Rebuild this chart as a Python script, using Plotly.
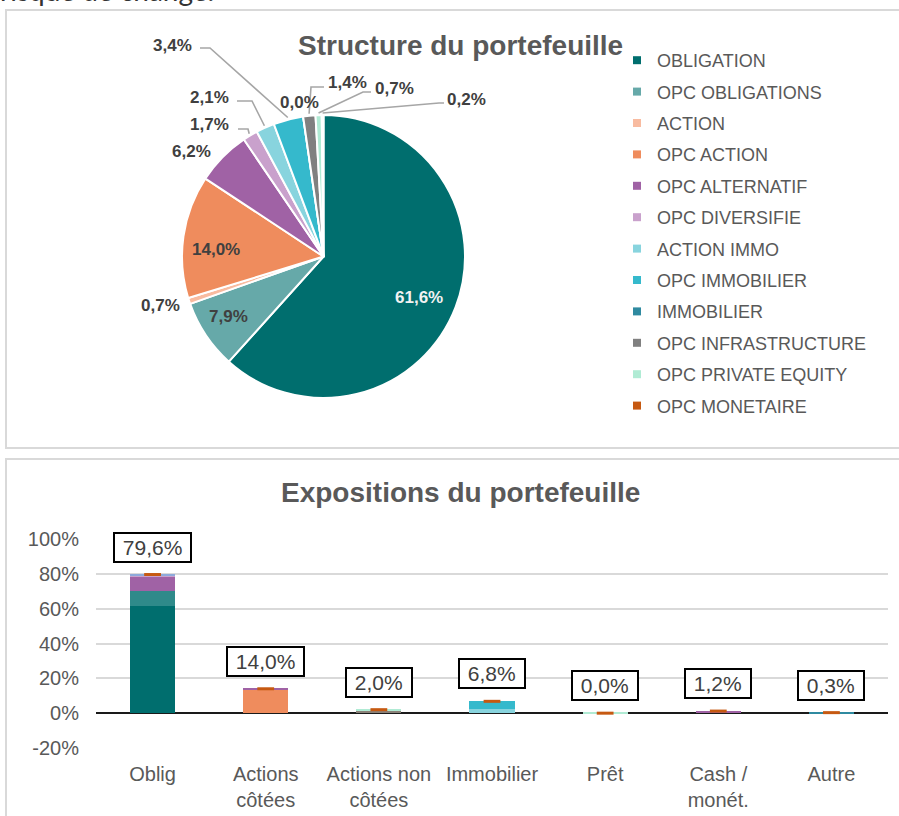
import math
import plotly.graph_objects as go

W, H = 899, 816

# ---------------- Pie data ----------------
pie_labels = ["OBLIGATION", "OPC OBLIGATIONS", "ACTION", "OPC ACTION", "OPC ALTERNATIF",
              "OPC DIVERSIFIE", "ACTION IMMO", "OPC IMMOBILIER", "IMMOBILIER",
              "OPC INFRASTRUCTURE", "OPC PRIVATE EQUITY", "OPC MONETAIRE"]
pie_values = [61.6, 7.9, 0.7, 14.0, 6.2, 1.7, 2.1, 3.4, 0.0, 1.4, 0.7, 0.2]
pie_colors = ["#006e6e", "#66a9a9", "#f8bba0", "#ef8c5d", "#a062a5", "#c9a1cc",
              "#88d4de", "#35b9cc", "#2f8aa0", "#808080", "#b0ebd4", "#c65911"]

# ---------------- Bar data ----------------
bar_categories = ["Oblig", "Actions<br>côtées", "Actions non<br>côtées", "Immobilier",
                  "Prêt", "Cash /<br>monét.", "Autre"]
bar_totals = [79.6, 14.0, 2.0, 6.8, 0.0, 1.2, 0.3]
bar_obligation = [61.6, 0, 0, 0, 0, 0, 0]
bar_opc_obligations = [8.4, 0, 0, 0, 0, 0, 0]
bar_opc_action = [0, 13.5, 0, 0, 0, 0, 0]
bar_opc_alternatif = [8.2, 0.5, 0, 0, 0, 1.2, 0]
bar_opc_diversifie = [0.9, 0, 0, 0, 0, 0, 0]
bar_autres = [0.5, 0, 0, 0, 0, 0, 0]
bar_action_immo = [0, 0, 0, 2.3, 0, 0, 0]
bar_opc_immobilier = [0, 0, 0, 4.5, 0, 0, 0]
bar_immobilier = [0, 0, 0, 0, 0, 0, 0.3]
bar_opc_infra = [0, 0, 1.4, 0, 0, 0, 0]
bar_opc_pe = [0, 0, 0.6, 0, 0.2, 0, 0]
y_tick_values = [-20, 0, 20, 40, 60, 80, 100]
y_tick_labels = ["-20%", "0%", "20%", "40%", "60%", "80%", "100%"]

bar_series = [
    ("OBLIGATION", bar_obligation, "#006e6e"),
    ("OPC OBLIGATIONS", bar_opc_obligations, "#2f8a8a"),
    ("OPC ACTION", bar_opc_action, "#ef8c5d"),
    ("OPC ALTERNATIF", bar_opc_alternatif, "#a062a5"),
    ("OPC DIVERSIFIE", bar_opc_diversifie, "#c9a1cc"),
    ("AUTRES", bar_autres, "#8eaadb"),
    ("ACTION IMMO", bar_action_immo, "#88d4de"),
    ("OPC IMMOBILIER", bar_opc_immobilier, "#35b9cc"),
    ("IMMOBILIER", bar_immobilier, "#2f8aa0"),
    ("OPC INFRASTRUCTURE", bar_opc_infra, "#8a8178"),
    ("OPC PRIVATE EQUITY", bar_opc_pe, "#b0ebd4"),
]

FONT = "Liberation Sans, Arial, sans-serif"
GREY = "#595959"
DARK = "#404040"


def px(x):
    return x / W


def py(y):
    return 1 - y / H


def fmt(v):
    return f"{v:.1f}".replace(".", ",") + "%"


fig = go.Figure()

# Pie geometry (pixels)
PIE_L, PIE_R, PIE_T, PIE_B = 182, 465, 115, 398
cx, cy = (PIE_L + PIE_R) / 2, (PIE_T + PIE_B) / 2
rad = (PIE_R - PIE_L) / 2

fig.add_trace(go.Pie(
    labels=pie_labels, values=pie_values, sort=False, direction="clockwise", rotation=0,
    marker=dict(colors=pie_colors, line=dict(color="white", width=2)),
    textinfo="none", hoverinfo="label+value", showlegend=False, automargin=False,
    domain=dict(x=[px(PIE_L), px(PIE_R)], y=[py(PIE_B), py(PIE_T)]),
))

# Bars
for name, vals, col in bar_series:
    fig.add_trace(go.Bar(x=bar_categories, y=vals, name=name, marker=dict(color=col, line=dict(width=0)),
                         showlegend=False, hoverinfo="x+y+name"))

# Total markers
fig.add_trace(go.Scatter(x=bar_categories, y=bar_totals, mode="markers", showlegend=False,
                         marker=dict(symbol="line-ew", size=12, line=dict(color="#c65911", width=3)),
                         cliponaxis=False, hoverinfo="x+y"))

# Legend entries (pie categories)
for i, (lab, col) in enumerate(zip(pie_labels, pie_colors)):
    fig.add_trace(go.Scatter(x=[None], y=[None], mode="markers", name=lab, legendgroup=f"g{i}",
                             marker=dict(symbol="square", size=8, color=col)))

annotations = []
shapes = []

# panels
shapes.append(dict(type="rect", xref="paper", yref="paper", x0=px(6), x1=px(920), y0=py(448), y1=py(10),
                   line=dict(color="#d9d9d9", width=2), layer="below"))
shapes.append(dict(type="rect", xref="paper", yref="paper", x0=px(6), x1=px(920), y0=py(840), y1=py(459),
                   line=dict(color="#d9d9d9", width=2), layer="below"))

# cropped header text
annotations.append(dict(text="risque de change.", xref="paper", yref="paper", x=px(-2), y=py(9),
                        xanchor="left", yanchor="bottom", showarrow=False,
                        font=dict(family="Lato, sans-serif", size=28, color="#333333")))

# titles
annotations.append(dict(text="<b>Structure du portefeuille</b>", xref="paper", yref="paper",
                        x=px(461), y=py(45), xanchor="center", yanchor="middle", showarrow=False,
                        font=dict(family=FONT, size=28, color=GREY)))
annotations.append(dict(text="<b>Expositions du portefeuille</b>", xref="paper", yref="paper",
                        x=px(460), y=py(493), xanchor="center", yanchor="middle", showarrow=False,
                        font=dict(family=FONT, size=28, color=GREY)))

# pie slice anchors computed from data
total = sum(pie_values)
cum = 0
anchors = []
for v in pie_values:
    mid = (cum + v / 2) / total
    cum += v
    th = 2 * math.pi * mid
    anchors.append((cx + (rad + 2) * math.sin(th), cy - (rad + 2) * math.cos(th)))

# label layout: index -> (text centre, leader polyline start/elbow or None, colour)
label_layout = {
    0: ((419, 297), None, "#f2f2f2"),
    1: ((228, 317), None, DARK),
    2: ((160, 305), None, DARK),
    3: ((216, 249), None, DARK),
    4: ((191, 151), None, DARK),
    5: ((209, 124), [(238, 129), (248, 129)], DARK),
    6: ((209, 97), [(237, 101), (252, 101)], DARK),
    7: ((172, 45), [(200, 48), (210, 48)], DARK),
    8: ((299, 102), None, DARK),
    9: ((347, 83), [(324, 87), (311, 87)], DARK),
    10: ((394, 88), [(371, 92), (363, 92)], DARK),
    11: ((466, 99), [(444, 103), (439, 103)], DARK),
}
for i, ((tx, ty), line, col) in label_layout.items():
    annotations.append(dict(text=f"<b>{fmt(pie_values[i])}</b>", xref="paper", yref="paper",
                            x=px(tx), y=py(ty), xanchor="center", yanchor="middle", showarrow=False,
                            font=dict(family=FONT, size=17, color=col)))
    if line:
        pts = line + [anchors[i]]
        path = "M " + " L ".join(f"{px(a):.5f},{py(b):.5f}" for a, b in pts)
        shapes.append(dict(type="path", xref="paper", yref="paper", path=path,
                           line=dict(color="#a6a6a6", width=1.6)))

# total label boxes
for cat, t in zip(bar_categories, bar_totals):
    annotations.append(dict(text="\u00a0" + fmt(t) + "\u00a0", x=cat, y=t, xref="x", yref="y",
                            xanchor="center", yanchor="bottom", yshift=12, showarrow=False,
                            font=dict(family=FONT, size=21, color=DARK),
                            bgcolor="white", bordercolor="#000000", borderwidth=2, borderpad=2))

fig.update_layout(
    template="none",
    autosize=False,
    width=W, height=H, margin=dict(l=0, r=0, t=0, b=0, pad=0, autoexpand=False),
    paper_bgcolor="white", plot_bgcolor="white",
    barmode="stack", bargap=0.6,
    font=dict(family=FONT, color=GREY),
    showlegend=True,
    legend=dict(x=px(617), y=py(42), xanchor="left", yanchor="top", traceorder="grouped",
                tracegroupgap=5, font=dict(family=FONT, size=18, color=GREY),
                bgcolor="rgba(0,0,0,0)", borderwidth=0, itemclick=False, itemdoubleclick=False),
    xaxis=dict(domain=[px(96), px(888)], type="category", categoryorder="array",
               categoryarray=bar_categories, showgrid=False, showline=False, ticks="",
               tickfont=dict(family=FONT, size=20, color=GREY), ticklabelstandoff=12,
               automargin=False, fixedrange=True),
    yaxis=dict(domain=[py(748), py(539)], range=[-20, 100], tickmode="array",
               tickvals=y_tick_values, ticktext=y_tick_labels,
               showgrid=True, gridcolor="#d9d9d9", gridwidth=1.5, zeroline=True,
               zerolinecolor="#1a1a1a", zerolinewidth=2, showline=False, ticks="",
               tickfont=dict(family=FONT, size=20, color=GREY), ticklabelstandoff=16,
               automargin=False, fixedrange=True),
    annotations=annotations, shapes=shapes,
)

fig.write_html("out.html", config={"responsive": False, "displayModeBar": False},
               post_script="document.body.style.margin='0';document.body.style.overflow='hidden';")
